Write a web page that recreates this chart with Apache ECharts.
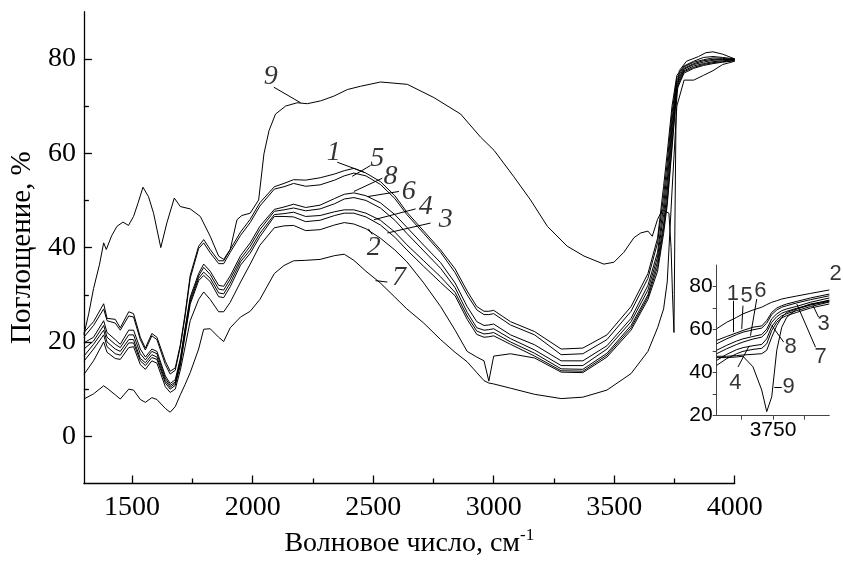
<!DOCTYPE html>
<html><head><meta charset="utf-8">
<script src="https://cdn.jsdelivr.net/npm/echarts@6/dist/echarts.min.js"></script>
<style>html,body{margin:0;background:#fff}#c{width:843px;height:563px}</style>
</head><body><div id="c"></div>
<script>
// ---- data ----
const wn = [1300,1340,1382,1396,1430,1451,1486,1506,1534,1555,1582,1603,1638,1658,1679,1700,1720,1741,1776,1797,1824,1859,1880,1907,1950,1990,2030,2090,2130,2170,2220,2280,2340,2380,2420,2470,2530,2590,2640,2710,2780,2840,2890,2930,2960,2980,3000,3070,3170,3280,3370,3470,3570,3640,3680,3705,3720,3740,3760,3790,3830,3870,3910,3950,4000];
const curve1 = [22.0,24.3,28.1,25.0,24.8,23.0,26.4,26.0,21.0,18.7,21.8,21.0,15.9,13.8,14.5,19.4,26.0,34.1,40.3,41.7,39.6,37.2,37.2,39.6,43.3,46.0,49.5,52.9,53.6,54.4,54.3,54.8,55.6,56.3,56.8,55.8,54.0,51.0,47.5,43.5,39.5,35.5,30.8,27.5,26.5,26.5,26.7,24.3,22.2,18.5,18.7,21.5,27.5,34.5,42.0,53.0,60.0,70.0,76.5,78.5,79.5,80.3,80.5,80.3,80.0];
const curve5 = [21.0,23.5,27.0,24.5,24.0,22.5,25.5,25.3,20.5,18.3,21.3,20.5,15.2,13.2,14.0,19.0,25.5,33.5,39.8,41.0,38.9,36.6,36.6,39.0,42.6,45.3,48.8,52.4,52.9,53.6,53.0,53.3,54.3,55.2,55.8,55.2,53.4,50.4,47.0,43.0,39.0,34.7,30.0,26.8,25.8,25.8,26.0,23.6,21.5,17.3,17.5,20.5,26.5,33.5,41.0,51.0,58.0,68.5,76.0,78.3,79.3,79.8,80.2,80.1,79.9];
const curve8 = [19.8,21.0,24.5,22.0,20.5,19.5,22.5,22.5,18.5,16.8,18.5,18.0,12.8,11.2,12.0,16.5,23.0,29.5,34.5,36.5,35.0,32.0,31.8,34.0,38.3,41.0,44.5,48.1,48.6,49.2,48.5,49.0,50.4,51.3,51.6,51.0,49.5,47.0,44.3,40.5,36.8,32.5,27.5,24.3,23.5,23.6,23.8,21.5,19.4,16.0,16.0,19.2,25.0,32.0,39.0,49.0,56.0,67.0,75.5,78.0,79.0,79.6,79.9,79.9,79.8];
const curve6 = [18.5,20.2,23.5,21.0,19.5,18.8,21.5,21.5,17.5,16.2,18.0,17.5,12.3,10.8,11.5,16.0,22.5,29.0,34.0,35.8,34.3,31.2,31.0,33.3,37.6,40.3,43.8,47.7,48.0,48.4,47.8,48.2,49.3,50.3,50.6,50.0,48.4,45.8,43.0,39.3,35.6,31.5,26.3,23.0,22.5,22.6,22.8,20.7,18.3,15.0,15.0,18.5,24.3,31.0,38.0,47.0,54.0,65.5,75.0,77.8,78.8,79.3,79.7,79.8,79.9];
const curve4 = [17.0,19.5,22.5,20.0,18.5,18.0,20.5,20.5,16.5,15.6,17.3,16.8,11.8,10.4,11.2,15.5,22.0,28.5,33.5,34.8,33.5,30.4,30.2,32.5,37.0,39.5,43.0,47.0,47.2,47.5,46.6,46.8,47.6,48.0,48.0,47.3,45.8,43.3,40.6,37.2,33.8,30.5,25.5,22.3,21.7,21.8,22.0,20.0,17.6,14.3,14.2,17.6,23.5,30.0,37.0,45.0,52.0,64.0,74.5,77.5,78.5,79.0,79.4,79.6,79.8];
const curve3 = [15.9,18.5,21.5,19.0,17.5,17.2,19.8,19.8,16.0,15.0,16.7,16.3,11.3,10.0,10.8,15.0,21.5,28.0,33.0,34.1,32.8,29.6,29.4,31.7,36.3,38.8,42.3,46.6,46.6,46.5,45.5,45.8,46.8,47.3,47.3,46.5,44.8,42.2,39.5,36.0,32.6,29.8,24.8,21.6,21.0,21.1,21.3,19.5,17.0,13.9,13.8,17.2,23.0,29.5,36.0,44.0,50.0,62.0,74.0,77.3,78.2,78.8,79.2,79.4,79.7];
const curve2 = [13.1,16.0,20.0,17.8,16.5,16.3,18.8,19.0,15.2,14.2,16.0,15.5,10.5,9.3,10.0,14.0,19.0,24.5,29.0,30.6,29.0,26.4,26.4,28.4,32.7,36.5,40.5,44.2,44.6,44.7,43.6,43.8,44.8,45.3,45.0,44.0,42.0,39.5,37.0,32.5,27.5,22.5,18.0,16.8,16.0,11.7,17.0,17.5,16.6,13.6,13.5,16.8,22.5,29.0,35.0,43.0,49.0,61.0,73.5,77.0,78.0,78.6,79.0,79.3,79.6];
const curve7 = [7.9,9.0,10.7,10.2,8.8,7.9,10.0,9.8,7.8,7.2,8.2,7.8,5.9,5.1,6.3,8.8,11.0,13.5,18.5,22.7,22.8,21.0,20.1,23.0,25.3,26.5,29.0,34.5,36.2,37.2,37.3,37.5,38.3,38.6,37.3,35.0,32.5,29.5,27.0,24.0,20.5,17.8,15.8,13.5,11.8,11.3,11.1,10.2,8.9,8.0,8.3,9.8,13.3,18.0,23.0,27.0,32.7,52.0,70.0,75.5,75.5,76.5,77.5,78.8,79.5];
const wn9 = [1300,1320,1340,1365,1382,1393,1415,1437,1462,1485,1506,1525,1545,1568,1589,1619,1644,1675,1700,1741,1783,1824,1859,1880,1907,1935,1955,1990,2025,2047,2068,2095,2137,2185,2227,2282,2337,2393,2448,2531,2642,2752,2863,2946,3002,3084,3153,3223,3305,3375,3457,3499,3540,3582,3610,3640,3658,3680,3700,3727,3736,3742,3748,3752,3757,3770,3800,3850,3880,3910,3950,4000];
const curve9 = [21.5,26,31.3,36.5,41.0,39.6,42.5,44.5,45.4,44.7,46.6,49.5,52.8,50.8,47.3,40.0,45.2,50.5,48.7,48.2,46.6,42.4,38.2,37.5,39.6,45.9,46.8,47.3,50.1,59.9,64.8,68.3,70.0,70.7,70.5,71.1,72.1,73.5,74.2,75.1,74.6,71.8,68.3,63.4,60.6,55.0,50.1,44.5,40.3,38.2,36.5,36.9,39.0,42.1,43.1,43.5,42.4,46.0,48.0,47.3,40.0,30.0,22.0,45.0,70.0,77.5,79.5,80.5,81.3,81.5,81.0,80.0];

// inset (zoom on the 3705-3795 region)
const insetWn = [3705,3713,3721,3726,3734,3741,3745,3749,3753,3757,3761,3769,3780,3795];
const inset1 = [55.0,56.8,58.5,59.6,61.1,61.7,64.2,68.0,70.0,71.1,71.9,73.1,74.7,76.5];
const inset2 = [60.4,63.4,65.7,67.3,69.1,70.4,71.6,72.7,73.4,74.2,74.7,75.6,76.8,78.4];
const inset3 = [43.4,46.5,48.8,49.9,50.8,51.3,53.4,59.6,63.4,65.4,66.5,68.0,70.0,71.9];
const inset4 = [45.7,48.5,50.7,51.6,52.5,53.1,55.7,61.4,64.5,66.4,67.4,68.8,70.7,72.8];
const inset5 = [53.4,55.7,57.7,58.8,59.9,60.7,63.0,67.0,69.1,70.4,71.1,72.4,73.9,75.7];
const inset6 = [50.4,52.7,54.7,55.7,56.8,57.7,60.2,65.0,67.3,68.8,69.6,70.8,72.7,74.7];
const inset7 = [47.6,47.6,47.9,48.2,48.5,48.8,50.4,56.5,61.9,65.7,68.0,69.6,71.4,73.1];
const inset8 = [48.8,51.1,53.1,54.2,55.6,56.5,58.8,63.4,66.0,67.6,68.5,69.9,71.6,73.7];
const inset9 = [47.0,47.0,47.3,47.6,42.7,31.9,21.9,28.8,50.4,61.1,65.7,69.6,71.9,73.4];

// tick values
const xMajor = [1500,2000,2500,3000,3500,4000];
const xMinor = [1750,2250,2750,3250,3750];
const yMajor = [0,20,40,60,80];
const yMinor = [10,30,50,70];
const insetXTicks = [3725,3750,3775];
const insetXLabels = [3750];
const insetYTicks = [20,30,40,50,60,70,80];
const insetYLabels = [20,40,60,80];

// curve tags: [text, x, y] and leader lines [x1,y1,x2,y2]
const mainTags = [['9',2075,76.2],['1',2337,60.2],['5',2517,58.8],['8',2572,55.0],['6',2648,51.9],['4',2718,48.7],['3',2801,45.9],['2',2503,40.0],['7',2607,33.7]];
const mainLeaders = [[2088,74,2199,70.7],[2351,58.1,2462,56.0],[2489,57.4,2413,55.1],[2538,54.7,2420,51.9],[2607,51.9,2476,50.8],[2676,48.2,2503,45.9],[2738,45.2,2559,43.1],[2496,42.8,2480,44.0],[2559,32.7,2510,33.0]];
const insetTags = [['1',3718,76.5],['5',3729,75.7],['6',3740,78.0],['4',3720,35.0],['2',3800,85.7],['3',3790.5,62.6],['8',3764,51.8],['7',3788,47.2],['9',3762.5,33.4]];
const insetLeaders = [[3718,73.4,3718,58.8],[3726,71.1,3725,60.3],[3737,74.2,3732,57.2],[3722,42.6,3731,52.5],[3796,82.6,3793,77.7],[3786.5,65.7,3782,71.1],[3758.5,54.2,3749,61.9],[3784,51.8,3769,71.9],[3757,33.4,3751,33.4]];

// ---- chart ----
const serif = '"Liberation Serif", "Times New Roman", serif';
const sans = '"Liberation Sans", Arial, sans-serif';
const plain = v => String(v);
const zip = (xs, ys) => xs.map((x, i) => [x, ys[i]]);
const lineSeries = (name, xs, ys, xi, yi) => ({
  type: 'line', name, data: zip(xs, ys), xAxisIndex: xi, yAxisIndex: yi,
  symbol: 'none', showSymbol: false, smooth: false,
  lineStyle: { color: '#000', width: 1 }, animation: false, z: 2
});
const mainCurves = [['1',curve1],['5',curve5],['8',curve8],['6',curve6],['4',curve4],['3',curve3],['2',curve2],['7',curve7]];
const insetCurves = [['1',inset1],['2',inset2],['3',inset3],['4',inset4],['5',inset5],['6',inset6],['7',inset7],['8',inset8],['9',inset9]];

const series = [];
mainCurves.forEach(([n, ys]) => series.push(lineSeries(n, wn, ys, 0, 0)));
series.push(lineSeries('9', wn9, curve9, 0, 0));
insetCurves.forEach(([n, ys]) => series.push(lineSeries('i' + n, insetWn, ys, 2, 2)));

const tagSeries = (tags, leaders, xi, yi, font) => ({
  type: 'scatter', xAxisIndex: xi, yAxisIndex: yi, symbolSize: 0, clip: false, silent: true,
  animation: false, z: 5,
  data: tags.map(t => ({ value: [t[1], t[2]], name: t[0] })),
  label: { show: true, position: 'inside', formatter: p => p.name, color: '#000', ...font },
  markLine: {
    silent: true, symbol: ['none', 'none'], animation: false,
    label: { show: false },
    lineStyle: { color: '#000', width: 1, type: 'solid' },
    data: leaders.map(l => [{ coord: [l[0], l[1]] }, { coord: [l[2], l[3]] }])
  }
});
series.push(tagSeries(mainTags, mainLeaders, 0, 0, { fontFamily: serif, fontStyle: 'italic', fontSize: 28 }));
series.push(tagSeries(insetTags, insetLeaders, 2, 2, { fontFamily: sans, fontSize: 22 }));

const option = {
  backgroundColor: '#fff',
  animation: false,
  grid: [
    { left: 83.3, right: 108.3, top: 11.7, bottom: 75.3 },
    { left: 716.7, right: 13.7, top: 265, bottom: 147.3 }
  ],
  xAxis: [
    { type: 'value', gridIndex: 0, min: 1300, max: 4000, position: 'bottom',
      axisLine: { show: true, onZero: false, lineStyle: { color: '#000', width: 1.3 } },
      axisTick: { show: true, inside: true, length: 8, customValues: xMajor, lineStyle: { color: '#000', width: 1.3 } },
      axisLabel: { customValues: xMajor, formatter: plain, color: '#000', fontFamily: serif, fontSize: 28, margin: 10 },
      splitLine: { show: false },
      name: 'Волновое число, см{sup|-1}', nameLocation: 'middle', nameGap: 44,
      nameTextStyle: { color: '#000', fontFamily: serif, fontSize: 28,
        rich: { sup: { color: '#000', fontFamily: serif, fontSize: 17, padding: [0, 0, 16, 0] } } } },
    { type: 'value', gridIndex: 0, min: 1300, max: 4000, position: 'bottom', offset: 0,
      axisLine: { show: false, onZero: false },
      axisTick: { show: true, inside: true, length: 5, customValues: xMinor, lineStyle: { color: '#000', width: 1.3 } },
      axisLabel: { show: false }, splitLine: { show: false } },
    { type: 'value', gridIndex: 1, min: 3705, max: 3795,
      axisLine: { show: true, onZero: false, lineStyle: { color: '#444', width: 1 } },
      axisTick: { show: true, inside: false, length: 4, customValues: insetXTicks, lineStyle: { color: '#444' } },
      axisLabel: { customValues: insetXLabels, formatter: plain, color: '#000', fontFamily: sans, fontSize: 21, margin: 4 },
      splitLine: { show: false } }
  ],
  yAxis: [
    { type: 'value', gridIndex: 0, min: -10, max: 90, position: 'left',
      axisLine: { show: true, onZero: false, lineStyle: { color: '#000', width: 1.3 } },
      axisTick: { show: true, inside: true, length: 8, customValues: yMajor, lineStyle: { color: '#000', width: 1.3 } },
      axisLabel: { customValues: yMajor, formatter: plain, color: '#000', fontFamily: serif, fontSize: 28, margin: 8 },
      splitLine: { show: false },
      name: 'Поглощение, %', nameLocation: 'middle', nameGap: 45, nameRotate: 90,
      nameTextStyle: { color: '#000', fontFamily: serif, fontSize: 29 } },
    { type: 'value', gridIndex: 0, min: -10, max: 90, position: 'left', offset: 0,
      axisLine: { show: false, onZero: false },
      axisTick: { show: true, inside: true, length: 5, customValues: yMinor, lineStyle: { color: '#000', width: 1.3 } },
      axisLabel: { show: false }, splitLine: { show: false } },
    { type: 'value', gridIndex: 1, min: 20, max: 90,
      axisLine: { show: true, onZero: false, lineStyle: { color: '#444', width: 1 } },
      axisTick: { show: true, inside: false, length: 4, customValues: insetYTicks, lineStyle: { color: '#444' } },
      axisLabel: { customValues: insetYLabels, formatter: plain, color: '#000', fontFamily: sans, fontSize: 21, margin: 4 },
      splitLine: { show: false } }
  ],
  series
};
const chart = echarts.init(document.getElementById('c'));
chart.setOption(option);
</script>
</body></html>
